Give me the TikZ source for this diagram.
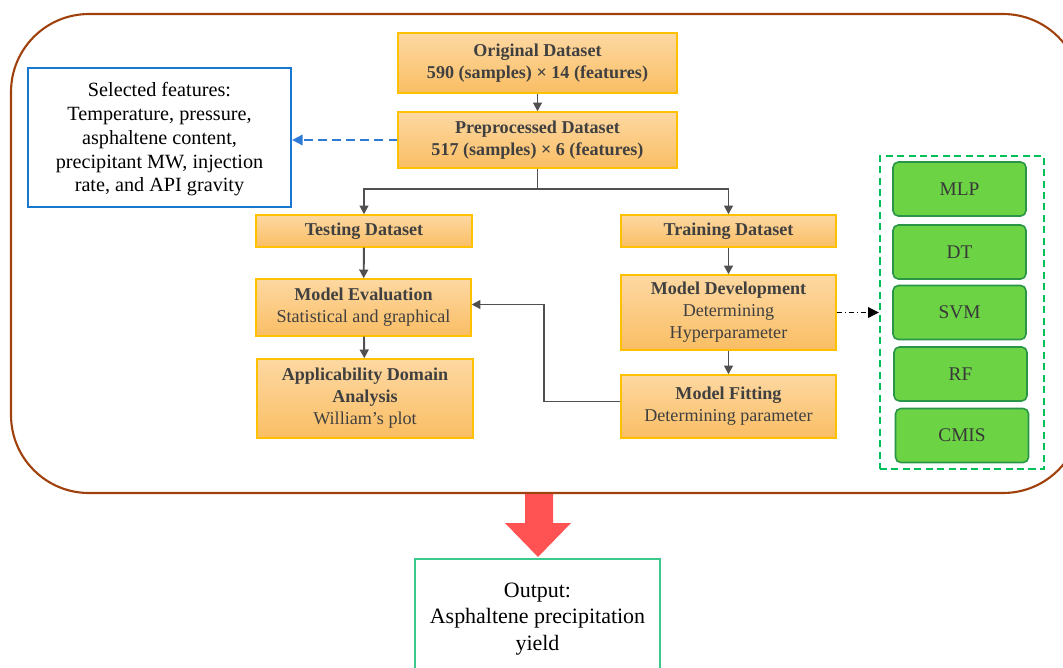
\documentclass[tikz,border=0pt]{standalone}
\usepackage{fontspec}
\setmainfont{Liberation Serif}
\usetikzlibrary{arrows.meta}
\definecolor{obord}{RGB}{255,192,0}
\definecolor{otop}{RGB}{253,216,162}
\definecolor{obot}{RGB}{250,190,100}
\definecolor{otext}{RGB}{64,64,64}
\definecolor{gfill}{RGB}{108,211,69}
\definecolor{gbord}{RGB}{40,150,70}
\definecolor{gdash}{RGB}{0,192,90}
\definecolor{bbord}{RGB}{24,120,208}
\definecolor{bdash}{RGB}{46,123,214}
\definecolor{brown}{RGB}{160,65,13}
\definecolor{redarr}{RGB}{255,82,82}
\definecolor{outb}{RGB}{60,200,140}
\definecolor{arrgray}{RGB}{80,80,80}
\tikzset{
  obox/.style={draw=obord, line width=0.8pt, top color=otop, bottom color=obot,
    text=otext, align=center, inner sep=1pt,
    font=\fontsize{10.3}{12.5}\selectfont},
  gmodel/.style={draw=gbord, line width=0.9pt, fill=gfill, rounded corners=3pt,
    minimum width=2.66cm, minimum height=1.08cm, text=black!78,
    font=\fontsize{11}{13}\selectfont},
  arr/.style={draw=arrgray, line width=1.1pt, -{Triangle[length=5pt,width=5pt]}},
  conn/.style={draw=arrgray, line width=1.1pt},
}
\begin{document}
\begin{tikzpicture}[x=0.02cm,y=-0.02cm]
\useasboundingbox (0,0) rectangle (1063,667);
\clip (0,0) rectangle (1063,667);

% big frame
\draw[brown, line width=1.2pt, rounded corners=1.56cm] (11,14) rectangle (1081,493);

% orange boxes
\node[obox, minimum width=5.58cm, minimum height=1.2cm] (orig) at (537.5,63)
  {\textbf{Original Dataset}\\\textbf{590 (samples) × 14 (features)}};
\node[obox, minimum width=5.58cm, minimum height=1.12cm] (pre) at (537.5,140)
  {\textbf{Preprocessed Dataset}\\\textbf{517 (samples) × 6 (features)}};
\node[obox, minimum width=4.32cm, minimum height=0.64cm] (test) at (364,231)
  {\textbf{Testing Dataset}};
\node[obox, minimum width=4.30cm, minimum height=0.64cm] (train) at (728.5,231)
  {\textbf{Training Dataset}};
\node[obox, minimum width=4.30cm, minimum height=1.14cm] (eval) at (363.5,307.5)
  {\textbf{Model Evaluation}\\Statistical and graphical};
\node[obox, minimum width=4.32cm, minimum height=1.58cm] (appl) at (365,398.5)
  {\textbf{Applicability Domain}\\\textbf{Analysis}\\William’s plot};
\node[obox, minimum width=4.30cm, minimum height=1.5cm] (dev) at (728.5,312.5)
  {\textbf{Model Development}\\Determining\\Hyperparameter};
\node[obox, minimum width=4.30cm, minimum height=1.26cm] (fit) at (728.5,406.5)
  {\textbf{Model Fitting}\\Determining parameter};

% selected features
\node[draw=bbord, line width=1.3pt, minimum width=5.26cm, minimum height=2.78cm,
  align=center, font=\fontsize{11.5}{13.6}\selectfont] (sel) at (159.5,137.5)
  {\rule{0pt}{10pt}Selected features:\\Temperature, pressure,\\asphaltene content,\\precipitant MW, injection\\rate, and API gravity};

% green group
\node[draw=gdash, line width=1.4pt, dash pattern=on 4pt off 2.5pt,
  minimum width=3.28cm, minimum height=6.26cm] (gbox) at (962,312.5) {};
\node[gmodel] (mlp) at (959.5,189) {MLP};
\node[gmodel] (dt) at (959.5,252) {DT};
\node[gmodel] (svm) at (959.5,312.5) {SVM};
\node[gmodel] (rf) at (960.5,374) {RF};
\node[gmodel] (cmis) at (962,435.5) {CMIS};

% output
\node[draw=outb, line width=0.9pt, minimum width=4.9cm, minimum height=2.4cm,
  align=center, font=\fontsize{12.5}{15}\selectfont] (out) at (537.5,619)
  {Output:\\Asphaltene precipitation\\yield};

% red arrow
\fill[redarr] (525,494) -- (553,494) -- (553,523) -- (571,523) -- (538,557)
  -- (505,523) -- (525,523) -- cycle;

% connectors
\draw[arr] (orig) -- (pre);
\draw[draw=bdash, line width=1.1pt, dash pattern=on 5pt off 3pt,
  -{Triangle[length=6pt,width=6pt]}] (pre.west) -- (pre.west -| sel.east);
\draw[conn] (pre.south) -- ++(0,20) coordinate (split);
\draw[arr] (split) -| (test.north);
\draw[arr] (split) -| (train.north);
\draw[arr] (test) -- (eval);
\draw[arr] (eval) -- (appl);
\draw[arr] (train) -- (dev);
\draw[arr] (dev) -- (fit);
\draw[arr] ([yshift=0.1cm]fit.west) -- ++(-76,0) |- ([yshift=0.06cm]eval.east);
\draw[black, line width=0.6pt, dash pattern=on 3pt off 1.5pt on 0.8pt off 1.5pt,
  -{Triangle[length=6pt,width=6pt]}] (dev.east) -- (dev.east -| gbox.west);
\end{tikzpicture}
\end{document}
